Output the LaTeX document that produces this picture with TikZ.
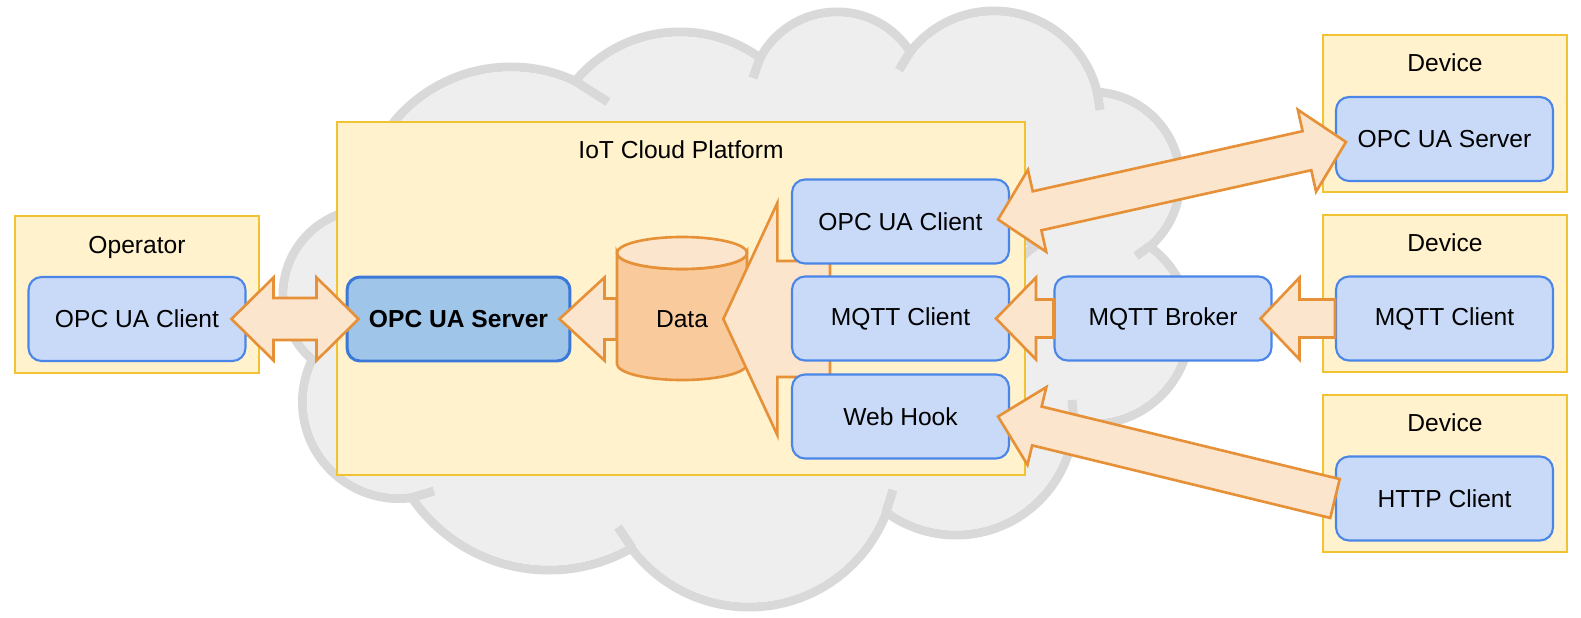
\documentclass[tikz,border=0pt]{standalone}
\usepackage{fontspec}
\setmainfont{Liberation Sans}
\usetikzlibrary{calc}

\definecolor{groupfill}{HTML}{FFF2CC}
\definecolor{groupline}{HTML}{F1C232}
\definecolor{boxfill}{HTML}{C9DAF8}
\definecolor{boxline}{HTML}{4A86E8}
\definecolor{serverfill}{HTML}{9FC5E8}
\definecolor{serverline}{HTML}{3C78D8}
\definecolor{arrowfill}{HTML}{FCE5CD}
\definecolor{arrowline}{HTML}{E69138}
\definecolor{cylbody}{HTML}{F9CB9C}
\definecolor{cloudfill}{HTML}{EEEEEE}
\definecolor{cloudgray}{HTML}{D9D9D9}

\tikzset{
  group/.style={draw=groupline, fill=groupfill, line width=1.2pt, minimum width=4.88cm, minimum height=3.14cm},
  box/.style={draw=boxline, fill=boxfill, line width=1.2pt, rounded corners=0.26cm, minimum width=4.34cm, minimum height=1.68cm},
  fat/.style={draw=arrowline, fill=arrowfill, line width=1.5pt},
  cloudline/.style={draw=cloudgray, line width=0.18cm},
}

% fat arrow: tail, tip, head length, head half width, shaft half width
\newcommand{\onearrow}[5]{%
  \coordinate (h) at ($(#2)!#3!(#1)$);
  \filldraw[fat] ($(#1)!#5!90:(#2)$) -- ($(h)!#5!90:(#2)$) -- ($(h)!#4!90:(#2)$) -- (#2)
    -- ($(h)!#4!-90:(#2)$) -- ($(h)!#5!-90:(#2)$) -- ($(#1)!#5!-90:(#2)$) -- cycle;}
% fat arrow with two heads: tip, tip, head length, head half width, shaft half width
\newcommand{\twoarrow}[5]{%
  \coordinate (h1) at ($(#1)!#3!(#2)$);
  \coordinate (h2) at ($(#2)!#3!(#1)$);
  \filldraw[fat] (#1) -- ($(h1)!#4!90:(#2)$) -- ($(h1)!#5!90:(#2)$) -- ($(h2)!#5!90:(#2)$)
    -- ($(h2)!#4!90:(#2)$) -- (#2) -- ($(h2)!#4!-90:(#2)$) -- ($(h2)!#5!-90:(#2)$)
    -- ($(h1)!#5!-90:(#2)$) -- ($(h1)!#4!-90:(#2)$) -- cycle;}

\begin{document}
\begin{tikzpicture}[x=0.02cm, y=-0.02cm, font=\fontsize{14}{17}\selectfont]
\useasboundingbox (0,0) rectangle (1581,618);

% Cloud
\foreach \cx/\cy/\r in {369/295/86, 511/219/152, 680/168/136, 837/99/87, 994/117/106, 1092/180/88,
                        1092/326/98, 956/417/118, 749/460/147, 549/404/166, 399/402/96.5}
  \draw[cloudline] (\cx,\cy) circle[radius=\r];
\foreach \cx/\cy/\r [evaluate=\r as \ri using \r-4.5] in {369/295/86, 511/219/152, 680/168/136, 837/99/87,
                        994/117/106, 1092/180/88, 1092/326/98, 956/417/118, 749/460/147, 549/404/166, 399/402/96.5}
  \fill[cloudfill] (\cx,\cy) circle[radius=\ri];
\foreach \ax/\ay/\bx/\by in {575/81/608/102, 760/58/753/78, 910/52/899/70, 1097/91/1100/110, 1150/246/1136/256,
                             1074/423/1072/400, 886/512/893/490, 632/548/618/527, 411/498/434/491}
  \draw[cloudline] (\ax,\ay) -- (\bx,\by);

% Groups
\node (opbox) [group] at (137, 294.5) {};
\node (optitle) at (137, 247) {Operator};
\node (dev1) [group] at (1445, 113.5) {};
\node (dev1title) at (1445, 63) {Device};
\node (dev2) [group] at (1445, 293.5) {};
\node (dev2title) at (1445, 243) {Device};
\node (dev3) [group] at (1445, 473.5) {};
\node (dev3title) at (1445, 423) {Device};
\node (platform) [group, minimum width=13.76cm, minimum height=7.06cm] at (681, 298.5) {};
\node (ptitle) at (681, 150) {IoT Cloud Platform};

% Data store
\filldraw[draw=arrowline, fill=cylbody, line width=1.5pt] (617,253) -- (617,364)
  arc[start angle=180, end angle=0, x radius=65, y radius=16] -- (747,253)
  arc[start angle=0, end angle=180, x radius=65, y radius=16] -- cycle;
\filldraw[draw=arrowline, fill=arrowfill, line width=1.5pt] (682,253) ellipse[x radius=65, y radius=16];
\node (data) [minimum width=2.6cm] at (682, 319) {Data};

% Collecting arrow
\coordinate (fan) at (830, 319);
\coordinate (fantip) at ($(data.east)+(-24,0)$);
\onearrow{fan}{fantip}{1.08cm}{2.32cm}{1.16cm}

% Platform services
\node (server) [box, minimum width=4.46cm, fill=serverfill, draw=serverline, line width=1.7pt,
  font=\fontsize{14}{17}\selectfont\bfseries] at (458.5, 319) {OPC UA Server};
\node (opcc) [box] at (900.5, 221.5) {OPC UA Client};
\node (mqttc) [box] at (900.5, 318.5) {MQTT Client};
\node (hook) [box] at (900.5, 416.5) {Web Hook};
\node (broker) [box] at (1163, 318.5) {MQTT Broker};

% Operator and devices
\node (opc) [box] at (137, 319) {OPC UA Client};
\node (devsrv) [box] at (1444.5, 139) {OPC UA Server};
\node (devmqtt) [box] at (1444.5, 318.5) {MQTT Client};
\node (devhttp) [box] at (1444.5, 498.5) {HTTP Client};

% Connections
\coordinate (a1) at ($(opc.east)+(-15,0)$);
\coordinate (b1) at ($(server.west)+(13,0)$);
\twoarrow{a1}{b1}{0.84cm}{0.83cm}{0.42cm}
\coordinate (a2) at ($(server.east)+(-12,0)$);
\onearrow{data.west}{a2}{0.9cm}{0.83cm}{0.41cm}
\coordinate (a3) at ($(opcc.east)+(-12,-2)$);
\coordinate (b3) at ($(devsrv.west)+(11,3)$);
\twoarrow{a3}{b3}{0.8cm}{0.84cm}{0.4cm}
\coordinate (a4) at ($(mqttc.east)+(-14,0)$);
\onearrow{broker.west}{a4}{0.8cm}{0.82cm}{0.38cm}
\coordinate (a5) at ($(broker.east)+(-12,0)$);
\onearrow{devmqtt.west}{a5}{0.78cm}{0.82cm}{0.38cm}
\coordinate (a6) at ($(hook.east)+(-12,0)$);
\onearrow{devhttp.west}{a6}{0.8cm}{0.8cm}{0.4cm}

\end{tikzpicture}
\end{document}
